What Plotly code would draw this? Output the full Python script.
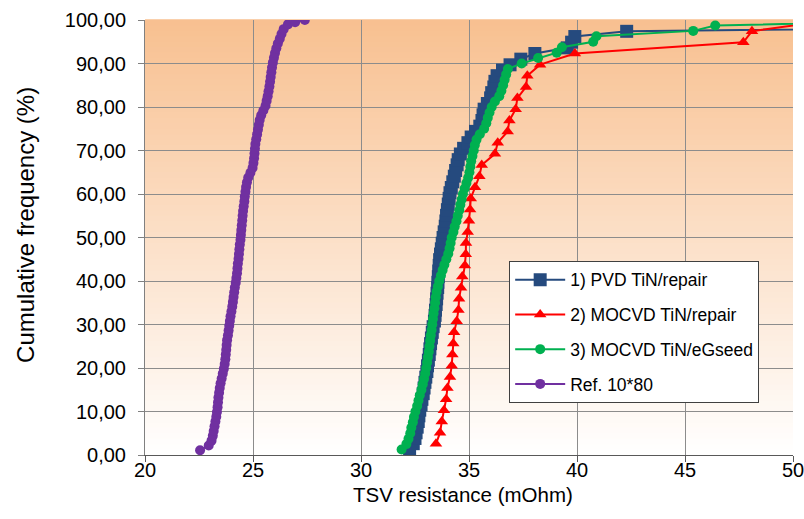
import plotly.graph_objects as go

# ---------------- data ----------------
pvd_x = [32.25, 32.42, 32.5, 32.55, 32.6, 32.65, 32.68, 32.72, 32.78, 32.82,
         32.88, 32.92, 32.96, 33.0, 33.05, 33.08, 33.12, 33.16, 33.19, 33.22,
         33.26, 33.3, 33.34, 33.4, 33.43, 33.45, 33.48, 33.5, 33.52, 33.55,
         33.56, 33.58, 33.6, 33.62, 33.64, 33.68, 33.72, 33.76, 33.8, 33.85,
         33.9, 33.93, 33.96, 34.0, 34.04, 34.08, 34.12, 34.18, 34.25, 34.32,
         34.38, 34.45, 34.5, 34.6, 34.75, 34.95, 35.1, 35.3, 35.5, 35.6,
         35.65, 35.7, 35.85, 36.0, 36.05, 36.15, 36.2, 36.3, 36.55, 36.9,
         37.4, 38.05, 39.55, 39.75, 39.9, 42.3, 67.0, 90.0]
pvd_y = [1.3, 2.6, 3.8, 5.1, 6.4, 7.7, 9.0, 10.3, 11.5, 12.8,
         14.1, 15.4, 16.7, 17.9, 19.2, 20.5, 21.8, 23.1, 24.4, 25.6,
         26.9, 28.2, 29.5, 30.8, 32.1, 33.3, 34.6, 35.9, 37.2, 38.5,
         39.7, 41.0, 42.3, 43.6, 44.9, 46.2, 47.4, 48.7, 50.0, 51.3,
         52.6, 53.8, 55.1, 56.4, 57.7, 59.0, 60.3, 61.5, 62.8, 64.1,
         65.4, 66.7, 67.9, 69.2, 70.5, 71.8, 73.1, 74.4, 75.6, 76.9,
         78.2, 79.5, 80.8, 82.1, 83.3, 84.6, 85.9, 87.2, 88.5, 89.7,
         91.0, 92.3, 93.6, 94.9, 96.2, 97.4, 98.7, 100.0]

mocvd_rep_x = [33.47, 33.66, 33.74, 33.84, 33.94, 34.0, 34.12, 34.2, 34.23, 34.27,
               34.31, 34.43, 34.51, 34.54, 34.63, 34.69, 34.81, 34.85, 34.86, 34.94,
               35.0, 35.05, 35.08, 35.28, 35.48, 35.59, 36.2, 36.33, 36.79, 36.87,
               37.16, 37.24, 37.64, 37.7, 38.29, 39.9, 47.7, 48.1, 51.8]
mocvd_rep_y = [2.56, 5.13, 7.69, 10.26, 12.82, 15.38, 17.95, 20.51, 23.08, 25.64,
               28.21, 30.77, 33.33, 35.9, 38.46, 41.03, 43.59, 46.15, 48.72, 51.28,
               53.85, 56.41, 58.97, 61.54, 64.1, 66.67, 69.23, 71.79, 74.36, 76.92,
               79.49, 82.05, 84.62, 87.18, 89.74, 92.31, 94.87, 97.44, 100.0]

mocvd_eg_x = [31.88, 32.1, 32.2, 32.28, 32.33, 32.4, 32.45, 32.52, 32.6, 32.66,
              32.72, 32.8, 32.86, 32.92, 32.97, 33.02, 33.06, 33.1, 33.14, 33.17,
              33.2, 33.23, 33.27, 33.3, 33.33, 33.36, 33.4, 33.43, 33.46, 33.5,
              33.56, 33.62, 33.7, 33.78, 33.86, 33.95, 34.04, 34.1, 34.15, 34.2,
              34.28, 34.34, 34.42, 34.48, 34.55, 34.6, 34.66, 34.72, 34.8, 34.88,
              34.96, 35.02, 35.06, 35.1, 35.16, 35.22, 35.27, 35.35, 35.5, 35.7,
              35.8, 35.87, 35.95, 36.05, 36.2, 36.4, 36.5, 36.58, 36.65, 36.72,
              36.8, 37.44, 38.2, 39.06, 39.3, 40.75, 40.9, 45.38, 46.4, 58.0]
mocvd_eg_y = [1.25, 2.5, 3.75, 5.0, 6.25, 7.5, 8.75, 10.0, 11.25, 12.5,
              13.75, 15.0, 16.25, 17.5, 18.75, 20.0, 21.25, 22.5, 23.75, 25.0,
              26.25, 27.5, 28.75, 30.0, 31.25, 32.5, 33.75, 35.0, 36.25, 37.5,
              38.75, 40.0, 41.25, 42.5, 43.75, 45.0, 46.25, 47.5, 48.75, 50.0,
              51.25, 52.5, 53.75, 55.0, 56.25, 57.5, 58.75, 60.0, 61.25, 62.5,
              63.75, 65.0, 66.25, 67.5, 68.75, 70.0, 71.25, 72.5, 73.75, 75.0,
              76.25, 77.5, 78.75, 80.0, 81.25, 82.5, 83.75, 85.0, 86.25, 87.5,
              88.75, 90.0, 91.25, 92.5, 93.75, 95.0, 96.25, 97.5, 98.75, 100.0]

ref_x = [22.55, 22.95, 23.08, 23.14, 23.18, 23.22, 23.26, 23.3, 23.33, 23.36,
         23.38, 23.4, 23.43, 23.46, 23.5, 23.55, 23.6, 23.65, 23.69, 23.72,
         23.74, 23.76, 23.78, 23.8, 23.84, 23.87, 23.9, 23.93, 23.96, 24.0,
         24.04, 24.07, 24.1, 24.13, 24.16, 24.2, 24.23, 24.26, 24.28, 24.3,
         24.33, 24.35, 24.37, 24.39, 24.42, 24.44, 24.46, 24.48, 24.5, 24.52,
         24.54, 24.57, 24.6, 24.62, 24.65, 24.68, 24.72, 24.78, 24.88, 24.98,
         25.02, 25.05, 25.07, 25.09, 25.11, 25.15, 25.19, 25.23, 25.27, 25.31,
         25.38, 25.48, 25.58, 25.63, 25.68, 25.72, 25.76, 25.79, 25.82, 25.85,
         25.88, 25.92, 25.97, 26.02, 26.08, 26.15, 26.24, 26.32, 26.42, 26.62,
         26.95, 27.4]
ref_y = [1.1, 2.2, 3.3, 4.4, 5.5, 6.6, 7.7, 8.8, 9.9, 11.0,
         12.1, 13.2, 14.3, 15.4, 16.5, 17.6, 18.7, 19.8, 20.9, 22.0,
         23.1, 24.2, 25.3, 26.4, 27.5, 28.6, 29.7, 30.8, 31.9, 33.0,
         34.1, 35.2, 36.3, 37.4, 38.5, 39.6, 40.7, 41.8, 42.9, 44.0,
         45.1, 46.2, 47.3, 48.4, 49.5, 50.6, 51.7, 52.8, 53.9, 55.0,
         56.1, 57.2, 58.3, 59.4, 60.5, 61.6, 62.7, 63.8, 64.9, 66.0,
         67.1, 68.2, 69.3, 70.4, 71.5, 72.6, 73.7, 74.8, 75.9, 77.0,
         78.1, 79.2, 80.3, 81.4, 82.5, 83.6, 84.7, 85.8, 86.9, 88.0,
         89.1, 90.2, 91.3, 92.4, 93.5, 94.6, 95.7, 96.8, 97.9, 99.0,
         99.5, 100.0]

series_names = ["1) PVD TiN/repair", "2) MOCVD TiN/repair",
                "3) MOCVD TiN/eGseed", "Ref. 10*80"]

x_ticks = [20, 25, 30, 35, 40, 45, 50]
y_ticks = [0, 10, 20, 30, 40, 50, 60, 70, 80, 90, 100]
x_title = "TSV resistance (mOhm)"
y_title = "Cumulative frequency (%)"

# ---------------- figure ----------------
FONT = "Liberation Sans, Arial, sans-serif"
fig = go.Figure()

fig.add_trace(go.Scatter(
    x=pvd_x, y=pvd_y, name=series_names[0], mode="lines+markers",
    line=dict(color="#254A7E", width=2),
    marker=dict(symbol="square", size=13, color="#254A7E"),
    legendgroup="a"))
fig.add_trace(go.Scatter(
    x=mocvd_rep_x, y=mocvd_rep_y, name=series_names[1], mode="lines+markers",
    line=dict(color="#FF0000", width=2),
    marker=dict(symbol="triangle-up", size=11, color="#FF0000"),
    legendgroup="b"))
fig.add_trace(go.Scatter(
    x=mocvd_eg_x, y=mocvd_eg_y, name=series_names[2], mode="lines+markers",
    line=dict(color="#00B050", width=2),
    marker=dict(symbol="circle", size=10, color="#00B050"),
    legendgroup="c"))
fig.add_trace(go.Scatter(
    x=ref_x, y=ref_y, name=series_names[3], mode="lines+markers",
    line=dict(color="#7030A0", width=2),
    marker=dict(symbol="circle", size=10, color="#7030A0"),
    legendgroup="d"))

# vertical gradient background of plot area (orange at top to white at bottom)
top = (248, 192, 144)
bot = (255, 255, 255)
n = 80
shapes = []
for i in range(n):
    t = (i + 0.5) / n  # 0 bottom -> 1 top
    c = tuple(round(bot[k] + (top[k] - bot[k]) * t) for k in range(3))
    shapes.append(dict(type="rect", xref="paper", yref="paper",
                       x0=0, x1=1, y0=i / n, y1=(i + 1) / n + 0.002,
                       fillcolor="rgb(%d,%d,%d)" % c, line=dict(width=0),
                       layer="below"))

fig.update_layout(
    width=804, height=519,
    margin=dict(l=145, r=11, t=20, b=64),
    paper_bgcolor="white",
    plot_bgcolor="rgba(0,0,0,0)",
    separators=",.",
    font=dict(family=FONT, color="#000000"),
    shapes=shapes,
    showlegend=True,
    legend=dict(x=0.562, y=0.4465, xanchor="left", yanchor="top",
                bgcolor="white", bordercolor="#404040", borderwidth=1,
                font=dict(family=FONT, size=17.5, color="#000000"),
                tracegroupgap=9, itemwidth=50),
    xaxis=dict(range=[20, 50], tickvals=x_ticks, showgrid=True, automargin=False,
               gridcolor="#8C8C8C", gridwidth=1, zeroline=False,
               showline=True, linecolor="#595959", linewidth=1,
               ticks="outside", ticklen=6, tickcolor="#595959",
               ticklabelstandoff=-9, ticklabeloverflow="allow",
               tickfont=dict(family=FONT, size=20)),
    yaxis=dict(range=[0, 100], tickvals=y_ticks, tickformat=".2f", automargin=False,
               showgrid=True, gridcolor="#8C8C8C", gridwidth=1, zeroline=False,
               showline=True, linecolor="#808080", linewidth=1,
               ticks="outside", ticklen=6, tickcolor="#808080",
               ticklabelstandoff=8, ticklabeloverflow="allow",
               tickfont=dict(family=FONT, size=20)),
    annotations=[
        dict(text=x_title, xref="paper", yref="paper", x=0.4915, y=-0.0898,
             xanchor="center", yanchor="middle", showarrow=False,
             font=dict(family=FONT, size=20.5)),
        dict(text=y_title, xref="paper", yref="paper", x=-0.1836, y=0.529,
             xanchor="center", yanchor="middle", showarrow=False, textangle=-90,
             font=dict(family=FONT, size=24)),
    ],
)

# remove the default page margin so the 804x519 figure fills the window exactly
fig.write_html("out.html",
               config={"displayModeBar": False},
               post_script="document.body.style.margin='0';"
                           "document.body.style.overflow='hidden';")
